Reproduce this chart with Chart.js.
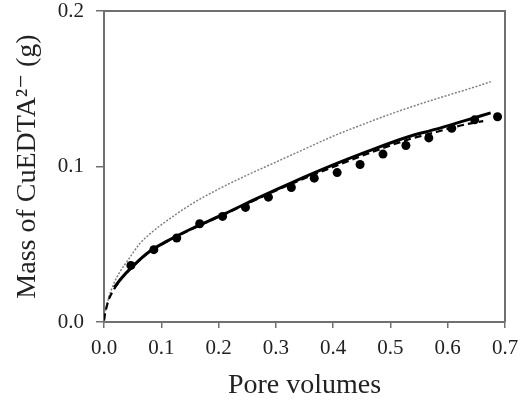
<!DOCTYPE html>
<html>
<head>
<meta charset="utf-8">
<script src="https://cdn.jsdelivr.net/npm/chart.js@4/dist/chart.umd.min.js"></script>
<style>
  html, body { margin: 0; padding: 0; background: #fff; }
  #wrap { width: 524px; height: 400px; }
</style>
</head>
<body>
<div id="wrap"><canvas id="c" width="524" height="400"></canvas></div>
<script>
// Axis ticks
const xTicks = [0.0, 0.1, 0.2, 0.3, 0.4, 0.5, 0.6, 0.7];
const yTicks = [0.0, 0.1, 0.2];

// Measured CuEDTA2- mass vs pore volumes
const poreVolumes = [0.047, 0.087, 0.127, 0.167, 0.207, 0.247, 0.287, 0.327, 0.367,
                     0.407, 0.447, 0.487, 0.527, 0.567, 0.607, 0.647, 0.687];
const measuredMass = [0.0364, 0.0465, 0.0540, 0.0632, 0.0679, 0.0737, 0.0803, 0.0865, 0.0925,
                      0.0961, 0.1013, 0.1080, 0.1135, 0.1184, 0.1246, 0.1300, 0.1320];

// Model curve (solid)
const solidX = [0.018, 0.030, 0.050, 0.080, 0.110, 0.150, 0.210, 0.270, 0.330,
                0.400, 0.460, 0.530, 0.580, 0.630, 0.675];
const solidY = [0.0222, 0.0280, 0.0358, 0.0455, 0.0520, 0.0595, 0.0695, 0.0800, 0.0900,
                0.1010, 0.1097, 0.1190, 0.1240, 0.1295, 0.1345];

// Model curve (dashed)
const dashedX = [0.000, 0.002, 0.005, 0.009, 0.015, 0.020, 0.030, 0.050, 0.080, 0.110,
                 0.150, 0.210, 0.270, 0.330, 0.400, 0.460, 0.530, 0.580, 0.630, 0.662];
const dashedY = [0.0010, 0.0056, 0.0103, 0.0152, 0.0195, 0.0225, 0.0278, 0.0356, 0.0453, 0.0518,
                 0.0592, 0.0692, 0.0795, 0.0893, 0.0997, 0.1082, 0.1172, 0.1222, 0.1270, 0.1292];

// Model curve (dotted)
const dottedX = [0.000, 0.002, 0.007, 0.016, 0.028, 0.040, 0.063, 0.086, 0.100, 0.150,
                 0.200, 0.250, 0.300, 0.350, 0.400, 0.450, 0.500, 0.550, 0.600, 0.640, 0.675];
const dottedY = [0.0000, 0.0060, 0.0140, 0.0238, 0.0324, 0.0388, 0.0506, 0.0585, 0.0625, 0.0752,
                 0.0855, 0.0945, 0.1028, 0.1112, 0.1195, 0.1268, 0.1337, 0.1400, 0.1458, 0.1503, 0.1545];

const pts = (xs, ys) => xs.map((x, i) => ({ x: x, y: ys[i] }));

const AXIS = '#707070';
const TEXT = '#222';
const SERIF = '"Liberation Serif", "Times New Roman", "DejaVu Serif", serif';

// Frame around the plotting area (top and right edges)
const framePlugin = {
  id: 'frame',
  beforeDatasetsDraw(chart) {
    const { ctx, chartArea: a } = chart;
    ctx.save();
    ctx.strokeStyle = AXIS;
    ctx.lineWidth = 2;
    ctx.beginPath();
    ctx.moveTo(a.left, a.top);
    ctx.lineTo(a.right, a.top);
    ctx.lineTo(a.right, a.bottom);
    ctx.stroke();
    ctx.restore();
  }
};

new Chart(document.getElementById('c'), {
  type: 'scatter',
  data: {
    datasets: [
      {
        label: 'dotted',
        data: pts(dottedX, dottedY),
        showLine: true,
        borderColor: '#808080',
        borderWidth: 1.5,
        borderDash: [2, 1.6],
        pointRadius: 0,
        cubicInterpolationMode: 'monotone',
        order: 3
      },
      {
        label: 'solid',
        data: pts(solidX, solidY),
        showLine: true,
        borderColor: '#000',
        borderWidth: 3,
        pointRadius: 0,
        cubicInterpolationMode: 'monotone',
        order: 2
      },
      {
        label: 'dashed',
        data: pts(dashedX, dashedY),
        showLine: true,
        borderColor: '#000',
        borderWidth: 2.2,
        borderDash: [7, 4],
        pointRadius: 0,
        cubicInterpolationMode: 'monotone',
        order: 1
      },
      {
        label: 'measured',
        data: pts(poreVolumes, measuredMass),
        showLine: false,
        pointRadius: 4.5,
        pointBackgroundColor: '#000',
        pointBorderColor: '#000',
        pointBorderWidth: 0,
        order: 0
      }
    ]
  },
  options: {
    responsive: false,
    animation: false,
    layout: { padding: { left: 0, right: 19, top: 11, bottom: 0 } },
    plugins: {
      legend: { display: false },
      tooltip: { enabled: false }
    },
    scales: {
      x: {
        type: 'linear',
        min: xTicks[0],
        max: xTicks[xTicks.length - 1],
        afterBuildTicks: s => { s.ticks = xTicks.map(v => ({ value: v })); },
        afterFit: s => { s.height = 78; s.paddingLeft = 0; s.paddingRight = 0; },
        border: { display: true, color: AXIS, width: 2 },
        grid: { display: true, drawOnChartArea: false, drawTicks: true, tickLength: 6, color: AXIS, lineWidth: 1.5 },
        ticks: {
          color: TEXT,
          padding: 8,
          maxRotation: 0,
          font: { family: SERIF, size: 21 },
          callback: v => Number(v).toFixed(1)
        },
        title: {
          display: true,
          text: 'Pore volumes',
          color: TEXT,
          padding: { top: 0, bottom: 0 },
          font: { family: SERIF, size: 28, lineHeight: 1 }
        }
      },
      y: {
        type: 'linear',
        min: yTicks[0],
        max: yTicks[yTicks.length - 1],
        afterBuildTicks: s => { s.ticks = yTicks.map(v => ({ value: v })); },
        afterFit: s => { s.width = 104; s.paddingTop = 0; s.paddingBottom = 0; },
        border: { display: true, color: AXIS, width: 2 },
        grid: { display: true, drawOnChartArea: false, drawTicks: true, tickLength: 8, color: AXIS, lineWidth: 1.5 },
        ticks: {
          color: TEXT,
          padding: 12,
          font: { family: SERIF, size: 21 },
          callback: v => Number(v).toFixed(1)
        },
        title: {
          display: true,
          text: 'Mass of CuEDTA²⁻ (g)',
          color: TEXT,
          padding: { top: 11, bottom: 0 },
          font: { family: SERIF, size: 28, lineHeight: 1.2 }
        }
      }
    }
  },
  plugins: [framePlugin]
});
</script>
</body>
</html>
